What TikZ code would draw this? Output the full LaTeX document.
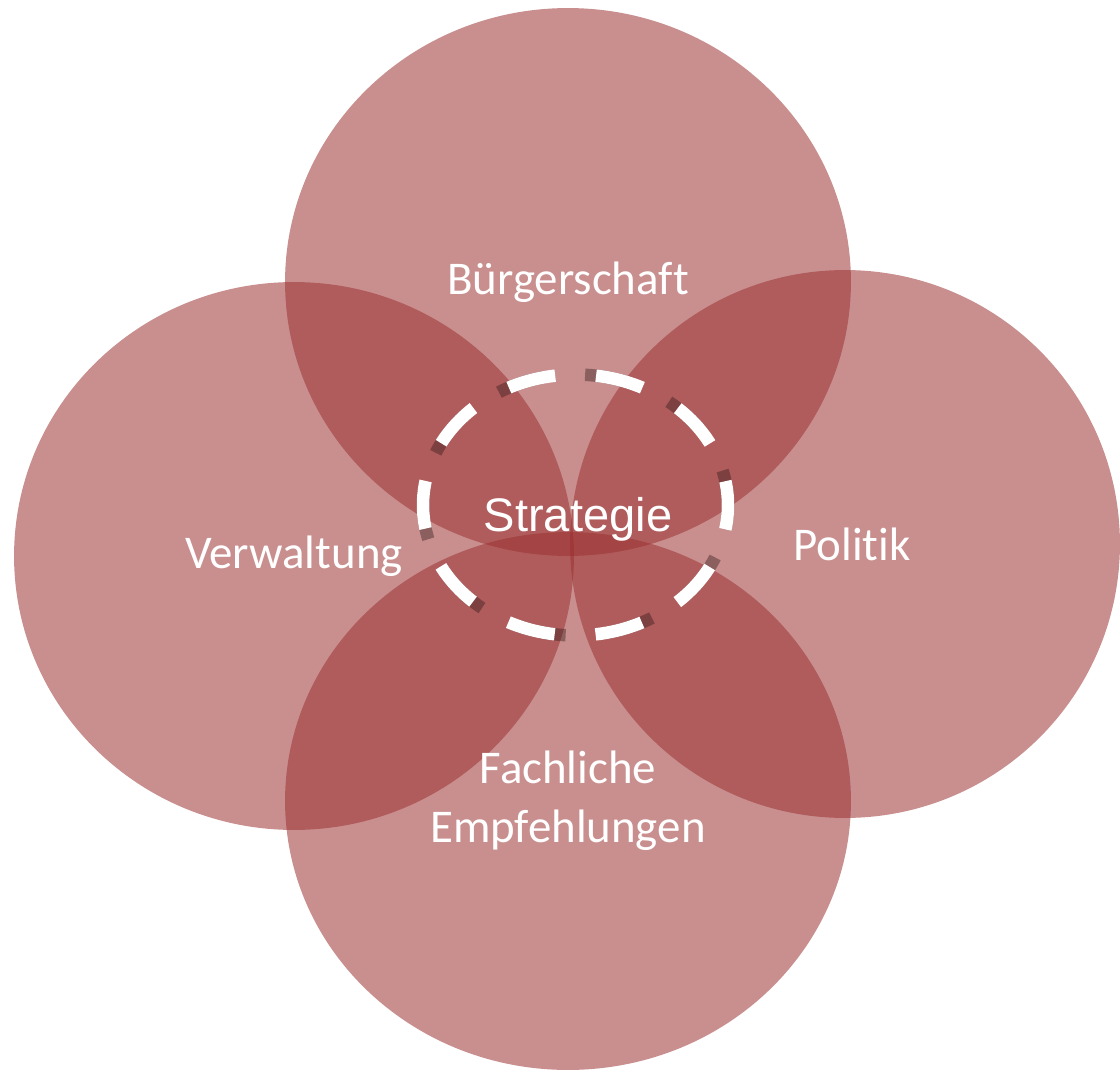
\documentclass[tikz,border=0pt]{standalone}
\usepackage{fontspec}
\setmainfont{Carlito}[Ligatures=NoCommon]
\newfontfamily\stratfont{Liberation Sans}
\usetikzlibrary{shapes.geometric}
\definecolor{petalred}{RGB}{155,48,48}
\definecolor{dashshadow}{RGB}{50,25,25}
\tikzset{
  petal/.style={ellipse,fill=petalred,fill opacity=0.54,text opacity=1,
                inner sep=0pt,align=center,text=white,
                font=\fontsize{26.7}{33.5}\selectfont},
  core/.style={ellipse,inner sep=0pt,minimum width=6.1cm,
               minimum height=5.22cm,line width=0.25cm,
               dash pattern=on 0.96cm off 0.82cm},
  corelabel/.style={text=white,font=\stratfont\fontsize{26.8}{32}\selectfont},
}

\begin{document}
\begin{tikzpicture}[x=0.02cm,y=-0.02cm]
  \useasboundingbox (0,0) rectangle (1120,1072);
  % stakeholder circles
  \node[petal,minimum width=11.32cm,minimum height=10.96cm] (top)
       at (568,282) {Bürgerschaft};
  \node[petal,minimum width=11.2cm,minimum height=10.96cm] (left)
       at (294,556) {Verwaltung};
  \node[petal,minimum width=11.0cm,minimum height=10.96cm] (right)
       at (845,544) {\hspace*{0.28cm}Politik};
  \node[petal,minimum width=11.32cm,minimum height=10.76cm] (bottom)
       at (568,801) {Fachliche\\Empfehlungen};

  % strategy ring
  \node[core,draw=dashshadow,draw opacity=0.4,dash phase=0.26cm] (stratshadow)
       at (575.5,505) {};
  \node[core,draw=white,dash phase=0.48cm] (strat) at (575.5,505) {};
  \node[corelabel] (stratlabel) at (578,519) {Strategie};
\end{tikzpicture}
\end{document}
